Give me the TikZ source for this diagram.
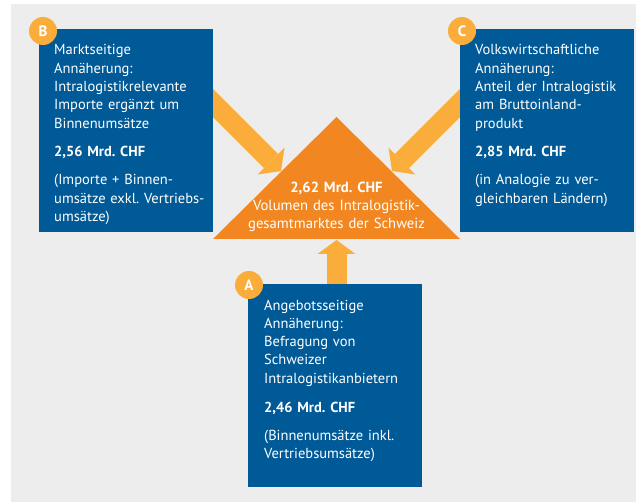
\documentclass[tikz,border=0pt]{standalone}
\usepackage{fontspec}
\setmainfont{PT Sans}
\usetikzlibrary{arrows.meta,backgrounds}
\definecolor{panelgray}{RGB}{237,237,237}
\definecolor{boxblue}{RGB}{0,90,152}
\definecolor{lightorange}{RGB}{251,173,60}
\definecolor{deeporange}{RGB}{242,135,34}
\frenchspacing

\begin{document}
\begin{tikzpicture}[x=1pt,y=-1pt,
  infobox/.style={fill=boxblue, draw=none, anchor=north west,
    minimum width=174pt, minimum height=203pt, inner sep=0pt},
  infotext/.style={anchor=base west, inner sep=0pt, text=white,
    text width=165pt, align=left, font=\fontsize{14.5}{18.3}\selectfont},
  tritext/.style={anchor=base, inner sep=0pt, text=white,
    text width=220pt, align=center, font=\fontsize{14.7}{18}\selectfont},
  badge/.style={circle, fill=lightorange, minimum size=28pt, inner sep=0pt,
    text=white, font=\fontsize{15}{15}\selectfont\bfseries},
  fatarrow/.style={draw=lightorange, line width=20pt,
    -{Triangle[length=14pt,width=38pt,line width=0pt]}}
]
\useasboundingbox (0,0) rectangle (636,502);

% information boxes
\node[infobox] (B) at (39,29) {};
\node[infobox] (C) at (460,29) {};
\node[infobox] (A) at (248,284) {};

% central triangle
\coordinate (triL) at (213,239);
\coordinate (triTop) at (336.5,117);
\coordinate (triR) at (460,239);
\fill[deeporange] (triL) -- (triTop) -- (triR) -- cycle;

% arrow end points on the triangle
\coordinate (tipB) at (281,171);
\coordinate (tipC) at (392,171);
\coordinate (tipA) at (336.5,240);
\coordinate (startB) at (195,85);
\coordinate (startC) at (478,85);
\coordinate (startA) at (336.5,300);

\begin{pgfonlayer}{background}
  \fill[panelgray] (11,4) rectangle (636,502);
  \draw[fatarrow] (startB) -- (tipB);
  \draw[fatarrow] (startC) -- (tipC);
  \draw[fatarrow] (startA) -- (tipA);
\end{pgfonlayer}

\node[tritext] (total) at (336.5,193) {\textbf{2,62 Mrd. CHF}\\Volumen des Intralogistik-\\gesamtmarktes der Schweiz};

\node[infotext] (Btext) at (54,55) {Marktseitige\\Annäherung:\\Intralogistikrelevante\\Importe ergänzt um\\Binnenumsätze\\[10.5pt]\textbf{2,56 Mrd. CHF}\\[9.7pt](Importe + Binnen-\\umsätze exkl. Vertriebs-\\umsätze)};

\node[infotext] (Ctext) at (475,55) {Volkswirtschaftliche\\Annäherung:\\Anteil der Intralogistik\\am Bruttoinland-\\produkt\\[10.5pt]\textbf{2,85 Mrd. CHF}\\[9.7pt](in Analogie zu ver-\\gleichbaren Ländern)};

\node[infotext] (Atext) at (264,310) {Angebotsseitige\\Annäherung:\\Befragung von\\Schweizer\\Intralogistikanbietern\\[10.5pt]\textbf{2,46 Mrd. CHF}\\[9.7pt](Binnenumsätze inkl.\\Vertriebsumsätze)};

% letter badges
\node[badge] (badgeB) at (43,31) {B};
\node[badge] (badgeC) at (462,31) {C};
\node[badge] (badgeA) at (249,285) {A};
\end{tikzpicture}
\end{document}
